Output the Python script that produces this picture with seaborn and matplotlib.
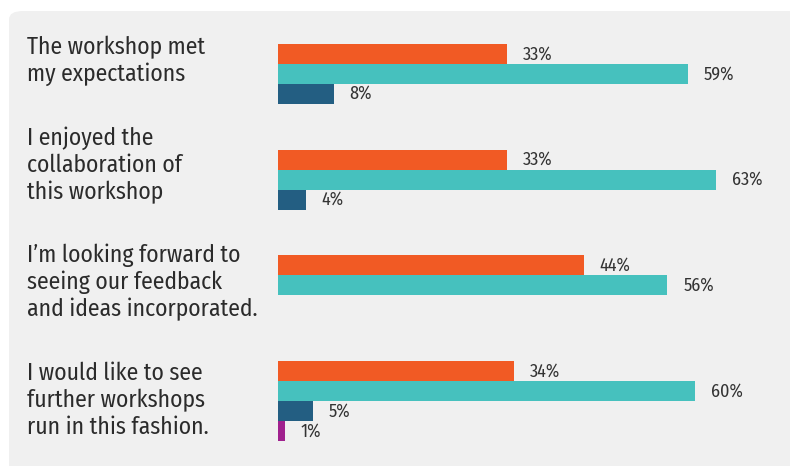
import matplotlib
matplotlib.use("Agg")
import matplotlib.pyplot as plt
from matplotlib import font_manager
from matplotlib.patches import FancyBboxPatch
import seaborn as sns
import pandas as pd
import numpy as np

# ---- data ----
questions = [
    "The workshop met\nmy expectations",
    "I enjoyed the\ncollaboration of\nthis workshop",
    "I\u2019m looking forward to\nseeing our feedback\nand ideas incorporated.",
    "I would like to see\nfurther workshops\nrun in this fashion.",
]
responses = ["Strongly agree", "Agree", "Neutral", "Disagree"]
strongly_agree = [33, 33, 44, 34]
agree = [59, 63, 56, 60]
neutral = [8, 4, np.nan, 5]
disagree = [np.nan, np.nan, np.nan, 1]
colors = ["#F15A24", "#46C1BE", "#235E82", "#A0218E"]

rows = []
for series, vals in zip(responses, [strongly_agree, agree, neutral, disagree]):
    for q, v in zip(questions, vals):
        rows.append({"question": q, "response": series, "value": v})
df = pd.DataFrame(rows)

sns.set_theme(style="white")
names = {f.name for f in font_manager.fontManager.ttflist}
family = "Fira Sans Condensed"
for cand in ["Fira Sans Condensed", "PT Sans Narrow", "Roboto Condensed", "Liberation Sans"]:
    if cand in names:
        family = cand
        break
plt.rcParams["font.family"] = [family, "DejaVu Sans"]

W, H = 790, 466
fig = plt.figure(figsize=(W / 100, H / 100), dpi=100)
fig.patch.set_facecolor("white")

# background panel with rounded top-left corner
panel = FancyBboxPatch((9 / W, -0.2), 1.2, 1 - 11 / H + 0.2,
                       boxstyle="round,pad=0,rounding_size=0.018",
                       transform=fig.transFigure, facecolor="#F0F0F0",
                       edgecolor="none", zorder=-5)
fig.patches.append(panel)

ax = fig.add_axes([278 / W, 0, 1 - 278 / W, 1])
ax.set_facecolor("none")
ax.set_zorder(2)

sns.barplot(data=df, y="question", x="value", hue="response",
            order=questions, hue_order=responses, palette=colors,
            orient="h", width=0.757, gap=0, dodge=True,
            edgecolor="none", linewidth=0, legend=False, ax=ax,
            saturation=1)

ax.set_xlim(0, (W - 278) / 6.95)
ax.set_ylim(3.615, -0.795)

for cont in ax.containers:
    labels = []
    for v in cont.datavalues:
        labels.append("" if (v is None or np.isnan(v)) else f"{v:.0f}%")
    ax.bar_label(cont, labels=labels, padding=11.5, fontsize=13,
                 color="#333333", fontweight="normal")

for s in ax.spines.values():
    s.set_visible(False)
ax.set_xticks([])
ax.set_yticks([])
ax.set_xlabel("")
ax.set_ylabel("")

label_centers = [61, 165, 282, 400]
for q, yc in zip(questions, label_centers):
    fig.text(27 / W, 1 - yc / H, q, ha="left", va="center",
             fontsize=17, color="#2B2B2B", linespacing=1.2,
             fontweight="normal")

fig.savefig("out.png", dpi=100, facecolor=fig.get_facecolor())
